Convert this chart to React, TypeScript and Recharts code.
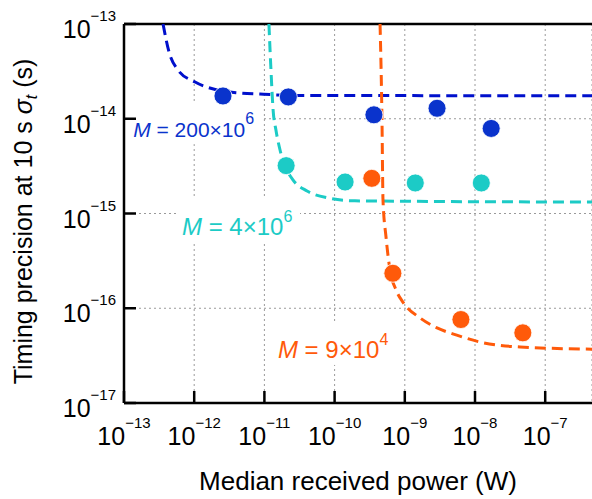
import {
  ComposedChart,
  Line,
  Scatter,
  XAxis,
  YAxis,
  CartesianGrid,
  ReferenceLine,
  ReferenceDot,
} from 'recharts';

const FONT = '"Liberation Sans", Arial, Helvetica, sans-serif';

// axis ticks (decades) and their exponent labels
const xTicks = [1e-13, 1e-12, 1e-11, 1e-10, 1e-9, 1e-8, 1e-7];
const xTickExp = ['−13', '−12', '−11', '−10', '−9', '−8', '−7'];
const yTicks = [1e-17, 1e-16, 1e-15, 1e-14, 1e-13];
const yTickExp = ['−17', '−16', '−15', '−14', '−13'];

// measured points
const blueX = [2.57e-12, 2.19e-11, 3.63e-10, 2.88e-9, 1.7e-8];
const blueY = [1.74e-14, 1.7e-14, 1.1e-14, 1.29e-14, 7.9e-15];
const cyanX = [2.04e-11, 1.41e-10, 1.41e-9, 1.23e-8];
const cyanY = [3.2e-15, 2.15e-15, 2.1e-15, 2.1e-15];
const orangeX = [3.39e-10, 6.76e-10, 6.3e-9, 4.8e-8];
const orangeY = [2.35e-15, 2.34e-16, 7.6e-17, 5.5e-17];

// model curves
const blueFitX = [3.6e-13, 4.38e-13, 5.87e-13, 1.03e-12, 2.11e-12, 4.49e-12, 8.65e-12, 3.24e-11, 4.64e-7];
const blueFitY = [1e-13, 5.06e-14, 3.27e-14, 2.44e-14, 2.01e-14, 1.87e-14, 1.82e-14, 1.76e-14, 1.75e-14];
const cyanFitX = [1.16e-11, 1.24e-11, 1.33e-11, 1.46e-11, 1.67e-11, 2.03e-11, 2.55e-11, 4.05e-11, 8.05e-11, 1.95e-10, 4.64e-7];
const cyanFitY = [1e-13, 3.27e-14, 1.24e-14, 7.6e-15, 4.68e-15, 3.02e-15, 2.26e-15, 1.73e-15, 1.46e-15, 1.36e-15, 1.32e-15];
const orangeFitX = [4.44e-10, 4.73e-10, 4.89e-10, 5.4e-10, 6.15e-10, 7.5e-10, 9.4e-10, 1.65e-9, 2.88e-9, 5.5e-9, 1.18e-8, 4.38e-8, 4.64e-7];
const orangeFitY = [1e-13, 9.7e-15, 1.39e-15, 5.65e-16, 2.54e-16, 1.56e-16, 1.16e-16, 7.9e-17, 6.2e-17, 5.2e-17, 4.4e-17, 3.9e-17, 3.7e-17];

const zip = (xs: number[], ys: number[]) => xs.map((x, i) => ({ x, y: ys[i] }));

const BLUE = '#0a33cc';
const BLUE_LINE = '#0010cc';
const CYAN = '#1ccbc6';
const ORANGE = '#ff5a0a';

function XTick(props: any) {
  const { x, y, index } = props;
  return (
    <g>
      <line x1={x} y1={y} x2={x} y2={y - 12} stroke="#000" strokeWidth={2.5} />
      <text x={x} y={y + 42} textAnchor="middle" fontFamily={FONT} fontSize={25} fill="#000">
        <tspan>10</tspan>
        <tspan dy={-17} fontSize={15}>{xTickExp[index]}</tspan>
      </text>
    </g>
  );
}

function YTick(props: any) {
  const { x, y, index } = props;
  return (
    <g>
      <line x1={x} y1={y} x2={x + 12} y2={y} stroke="#000" strokeWidth={2.5} />
      <text x={x - 8} y={y + 14} textAnchor="end" fontFamily={FONT} fontSize={25} fill="#000">
        <tspan>10</tspan>
        <tspan dy={-17} fontSize={15}>{yTickExp[index]}</tspan>
      </text>
    </g>
  );
}

function Annot({ cx, cy, color, size, base, sup, boxW, boxH }: any) {
  return (
    <g>
      <rect x={cx - 6} y={cy - boxH + 7} width={boxW} height={boxH} fill="#fff" />
      <text x={cx} y={cy} fontFamily={FONT} fontSize={size} fill={color}>
        <tspan fontStyle="italic">M</tspan>
        <tspan>{` = ${base}×10`}</tspan>
        <tspan dy={-13} fontSize={16}>{sup}</tspan>
      </text>
    </g>
  );
}

export default function App() {
  const dash = '11 6';
  return (
    <div style={{ position: 'absolute', left: 0, top: 0, background: '#fff' }}>
      <ComposedChart width={592} height={499} margin={{ top: 24, right: 0, left: 0, bottom: 0 }}>
        <CartesianGrid stroke="#9a9a9a" strokeDasharray="2 3" strokeWidth={1} />
        <XAxis
          type="number"
          dataKey="x"
          scale="log"
          domain={[1e-13, 4.64e-7]}
          allowDataOverflow
          ticks={xTicks}
          interval={0}
          height={96}
          tickSize={0}
          tickMargin={0}
          tickLine={false}
          axisLine={{ stroke: '#000', strokeWidth: 2.5 }}
          tick={(p: any) => <XTick {...p} />}
          label={{
            content: (p: any) => {
              const vb = p.viewBox;
              return (
                <text
                  x={vb.x + vb.width / 2}
                  y={vb.y + 87}
                  textAnchor="middle"
                  fontFamily={FONT}
                  fontSize={26}
                  fill="#000"
                >
                  Median received power (W)
                </text>
              );
            },
          }}
        />
        <YAxis
          type="number"
          dataKey="y"
          scale="log"
          domain={[1e-17, 1e-13]}
          allowDataOverflow
          ticks={yTicks}
          interval={0}
          width={124}
          tickSize={0}
          tickMargin={0}
          tickLine={false}
          axisLine={{ stroke: '#000', strokeWidth: 2.5 }}
          tick={(p: any) => <YTick {...p} />}
          label={{
            content: (p: any) => {
              const vb = p.viewBox;
              const cy = vb.y + vb.height / 2 + 8;
              return (
                <text
                  x={32}
                  y={cy}
                  transform={`rotate(-90 32 ${cy})`}
                  textAnchor="middle"
                  fontFamily={FONT}
                  fontSize={25}
                  fill="#000"
                >
                  <tspan>Timing precision at 10 s </tspan>
                  <tspan fontStyle="italic">σ</tspan>
                  <tspan fontStyle="italic" fontSize={16} dy={5}>t</tspan>
                  <tspan dy={-5}> (s)</tspan>
                </text>
              );
            },
          }}
        />
        <ReferenceLine y={1e-13} stroke="#000" strokeWidth={2.5} ifOverflow="visible" />
        <ReferenceDot
          x={1.35e-13}
          y={6.4e-15}
          r={0}
          ifOverflow="visible"
          shape={(p: any) => (
            <Annot {...p} color={BLUE} size={21} base="200" sup="6" boxW={134} boxH={41} />
          )}
        />
        <ReferenceDot
          x={6.7e-13}
          y={5.93e-16}
          r={0}
          ifOverflow="visible"
          shape={(p: any) => (
            <Annot {...p} color={CYAN} size={24} base="4" sup="6" boxW={124} boxH={45} />
          )}
        />
        <ReferenceDot
          x={1.56e-11}
          y={2.99e-17}
          r={0}
          ifOverflow="visible"
          shape={(p: any) => (
            <Annot {...p} color={ORANGE} size={24} base="9" sup="4" boxW={124} boxH={43} />
          )}
        />
        <Line data={zip(blueFitX, blueFitY)} dataKey="y" type="monotone" stroke={BLUE_LINE} strokeWidth={3} strokeDasharray={dash} dot={false} activeDot={false} isAnimationActive={false} />
        <Line data={zip(cyanFitX, cyanFitY)} dataKey="y" type="monotone" stroke={CYAN} strokeWidth={3} strokeDasharray={dash} dot={false} activeDot={false} isAnimationActive={false} />
        <Line data={zip(orangeFitX, orangeFitY)} dataKey="y" type="monotone" stroke={ORANGE} strokeWidth={3} strokeDasharray={dash} dot={false} activeDot={false} isAnimationActive={false} />
        <Scatter data={zip(blueX, blueY)} fill={BLUE} isAnimationActive={false} shape={(p: any) => <circle cx={p.cx} cy={p.cy} r={9} fill={BLUE} stroke="#fff" strokeWidth={0.8} />} />
        <Scatter data={zip(cyanX, cyanY)} fill={CYAN} isAnimationActive={false} shape={(p: any) => <circle cx={p.cx} cy={p.cy} r={9} fill={CYAN} stroke="#fff" strokeWidth={0.8} />} />
        <Scatter data={zip(orangeX, orangeY)} fill={ORANGE} isAnimationActive={false} shape={(p: any) => <circle cx={p.cx} cy={p.cy} r={9} fill={ORANGE} stroke="#fff" strokeWidth={0.8} />} />
      </ComposedChart>
    </div>
  );
}
